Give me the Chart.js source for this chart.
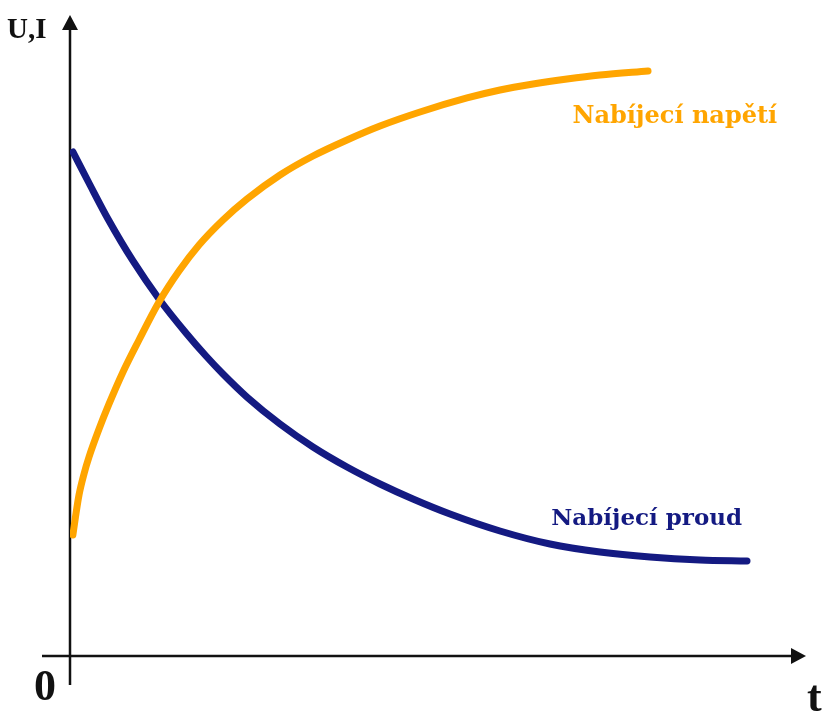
<!DOCTYPE html>
<html>
<head>
<meta charset="utf-8">
<script src="https://cdn.jsdelivr.net/npm/chart.js@4"></script>
<style>
  html, body { margin: 0; padding: 0; background: #fff; }
  canvas { display: block; }
</style>
</head>
<body>
<canvas id="chart" width="828" height="711"></canvas>
<script>
// values (t and U,I in arbitrary units 0..100)
const voltageT = [0.4, 0.76, 1.25, 1.94, 2.64, 4.03, 5.42, 7.36, 9.58, 12.36, 15.14, 17.92, 21.25, 24.58, 29.17, 33.75, 38.47, 43.06, 48.61, 55.14, 59.72, 64.31, 69.03, 73.61, 80.28];
const voltageU = [19.33, 22.2, 25.72, 29.07, 31.79, 36.26, 40.26, 45.37, 50.48, 56.55, 61.5, 65.65, 69.65, 73.0, 76.84, 79.87, 82.43, 84.66, 86.9, 89.14, 90.42, 91.37, 92.17, 92.81, 93.45];
const currentT = [0.42, 2.78, 5.28, 8.75, 12.36, 16.11, 18.89, 21.25, 24.58, 29.17, 33.75, 38.47, 43.06, 47.64, 52.78, 59.72, 66.67, 73.61, 80.56, 87.5, 94.03];
const currentI = [80.51, 75.24, 69.81, 63.1, 57.03, 51.6, 47.92, 45.05, 41.37, 37.06, 33.39, 30.19, 27.48, 25.08, 22.68, 19.97, 17.89, 16.61, 15.81, 15.34, 15.18];
const seriesNames = ['Nabíjecí napětí', 'Nabíjecí proud'];
const seriesColors = ['#ffa500', '#141a82'];
const axisLabels = ['U,I', 't', '0'];

const toPoints = (xs, ys) => xs.map((x, i) => ({x: x, y: ys[i]}));

// axes with arrows + text labels
const axesPlugin = {
    id: 'axesPlugin',
    beforeDatasetsDraw(chart) {
        const ctx = chart.ctx;
        const x0 = chart.scales.x.getPixelForValue(0);
        const y0 = chart.scales.y.getPixelForValue(0);
        ctx.save();
        ctx.strokeStyle = '#111';
        ctx.fillStyle = '#111';
        ctx.lineWidth = 2.5;
        // y axis
        ctx.beginPath();
        ctx.moveTo(x0, y0 + 29);
        ctx.lineTo(x0, 26);
        ctx.stroke();
        ctx.beginPath();
        ctx.moveTo(x0, 15);
        ctx.lineTo(x0 - 8, 30);
        ctx.lineTo(x0 + 8, 30);
        ctx.closePath();
        ctx.fill();
        // x axis
        ctx.beginPath();
        ctx.moveTo(42, y0);
        ctx.lineTo(795, y0);
        ctx.stroke();
        ctx.beginPath();
        ctx.moveTo(806, y0);
        ctx.lineTo(791, y0 - 8);
        ctx.lineTo(791, y0 + 8);
        ctx.closePath();
        ctx.fill();
        // axis labels
        ctx.textAlign = 'left';
        ctx.textBaseline = 'alphabetic';
        ctx.font = 'bold 29px "Liberation Serif", serif';
        ctx.fillText(axisLabels[0], 7, 38);
        ctx.font = 'bold 44px "Liberation Serif", serif';
        ctx.fillText(axisLabels[1], 807, 711);
        ctx.fillText(axisLabels[2], 34, 700);
        ctx.restore();
    },
    afterDatasetsDraw(chart) {
        const ctx = chart.ctx;
        const sx = chart.scales.x, sy = chart.scales.y;
        ctx.save();
        ctx.textAlign = 'center';
        ctx.textBaseline = 'alphabetic';
        ctx.font = 'bold 24px "DejaVu Serif", serif';
        ctx.fillStyle = seriesColors[0];
        ctx.fillText(seriesNames[0], sx.getPixelForValue(84.0), sy.getPixelForValue(85.2));
        ctx.font = 'bold 23px "DejaVu Serif", serif';
        ctx.fillStyle = seriesColors[1];
        ctx.fillText(seriesNames[1], sx.getPixelForValue(80.1), sy.getPixelForValue(20.9));
        ctx.restore();
    }
};

new Chart(document.getElementById('chart'), {
    type: 'line',
    data: {
        datasets: [
            {
                label: seriesNames[0],
                data: toPoints(voltageT, voltageU),
                borderColor: seriesColors[0],
                borderWidth: 7,
                borderCapStyle: 'round',
                cubicInterpolationMode: 'monotone',
                pointRadius: 0,
                fill: false
            },
            {
                label: seriesNames[1],
                data: toPoints(currentT, currentI),
                borderColor: seriesColors[1],
                borderWidth: 7,
                borderCapStyle: 'round',
                cubicInterpolationMode: 'monotone',
                pointRadius: 0,
                fill: false
            }
        ]
    },
    options: {
        responsive: false,
        animation: false,
        layout: { padding: { left: 70, right: 38, top: 30, bottom: 55 } },
        plugins: { legend: { display: false }, tooltip: { enabled: false } },
        scales: {
            x: { type: 'linear', min: 0, max: 100, display: false },
            y: { type: 'linear', min: 0, max: 100, display: false }
        }
    },
    plugins: [axesPlugin]
});
</script>
</body>
</html>
